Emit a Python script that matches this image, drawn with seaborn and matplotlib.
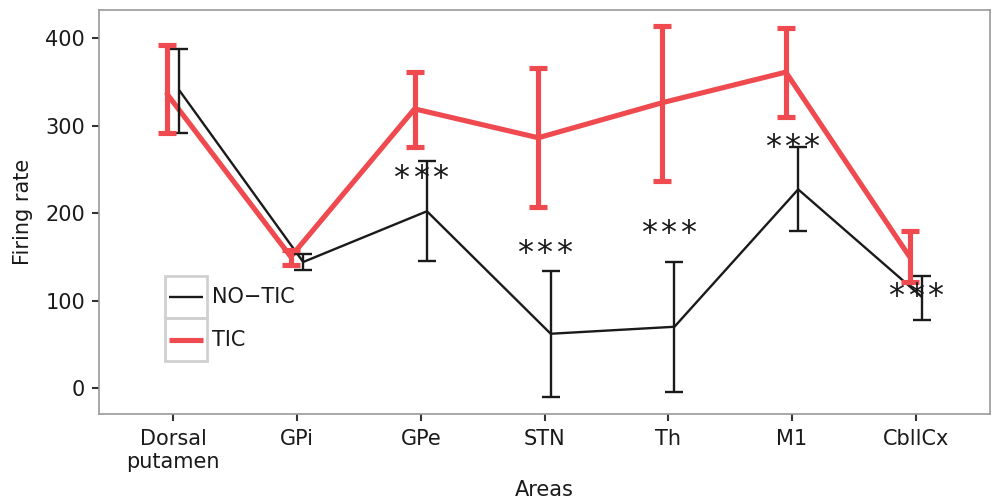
import matplotlib
matplotlib.use("Agg")
import matplotlib.pyplot as plt
import seaborn as sns
import numpy as np
import pandas as pd
from matplotlib.patches import Rectangle

areas = ["Dorsal\nputamen", "GPi", "GPe", "STN", "Th", "M1", "CbllCx"]
notic_mean = [340, 144, 202, 62, 70, 227, 104]
notic_low = [291, 135, 145, -10, -5, 180, 78]
notic_high = [388, 153, 259, 134, 144, 275, 128]
tic_mean = [336, 150, 319, 286, 326, 361, 150]
tic_low = [291, 141, 275, 207, 237, 310, 121]
tic_high = [392, 158, 361, 366, 414, 411, 179]
star_y = [None, None, 244, 158, 181, 279, 109]
star_char = "*"

sns.set_theme(style="white")
plt.rcParams['font.family'] = ['DejaVu Sans']

BLACK = "#1a1a1a"
RED = "#EF4A4F"
dodge = 0.05
FS = 15

fig = plt.figure(figsize=(9.92, 5.01), dpi=100)
ax = fig.add_axes([99/992, 1 - 414/501, (990-99)/992, (414-10)/501])

x = np.arange(len(areas))
df = pd.DataFrame({
    "x": np.concatenate([x + dodge, x - dodge]),
    "rate": notic_mean + tic_mean,
    "group": ["NO\u2212TIC"] * len(areas) + ["TIC"] * len(areas),
})

sns.lineplot(data=df, x="x", y="rate", hue="group", size="group",
             palette={"NO\u2212TIC": BLACK, "TIC": RED},
             sizes={"NO\u2212TIC": 1.7, "TIC": 3.7},
             ax=ax, legend=False, estimator=None, sort=False)

nm = np.array(notic_mean); tm = np.array(tic_mean)
ax.errorbar(x + dodge, nm, yerr=[nm - np.array(notic_low), np.array(notic_high) - nm],
            fmt="none", ecolor=BLACK, elinewidth=1.7, capsize=6.5, capthick=1.7, zorder=3)
ax.errorbar(x - dodge, tm, yerr=[tm - np.array(tic_low), np.array(tic_high) - tm],
            fmt="none", ecolor=RED, elinewidth=3.7, capsize=6.5, capthick=3.7, zorder=4)

# "***" annotations with wide letter spacing
for i, sy in enumerate(star_y):
    if sy is not None:
        for k in (-1, 0, 1):
            ax.annotate(star_char, (x[i], sy), xytext=(k * 13.9, 0),
                        textcoords="offset points", ha="center",
                        va="center_baseline", fontsize=23, color=BLACK, zorder=6)

ax.set_xlim(-0.6, 6.6)
ax.set_ylim(-29.7, 432)
ax.set_xticks(x)
ax.set_xticklabels(areas, fontsize=FS, color="#1a1a1a", linespacing=1.15)
ax.set_yticks([0, 100, 200, 300, 400])
ax.tick_params(axis="y", labelsize=FS, labelcolor="#1a1a1a", pad=5)
ax.tick_params(axis="x", pad=6)
ax.tick_params(axis="both", direction="out", length=5, width=1.5, color="#333333",
               bottom=True, left=True)
ax.set_xlabel("Areas", fontsize=FS, color="#1a1a1a", labelpad=6)
ax.set_ylabel("Firing rate", fontsize=FS, color="#1a1a1a", labelpad=9)
for s in ax.spines.values():
    s.set_color("#999999")
    s.set_linewidth(1.2)

# legend keys
def to_ax(px, py):
    return ((px - 99) / (990 - 99), (414 - py) / (414 - 10))

for (top, bot), col, lw, lab in [((276, 318), BLACK, 1.7, "NO\u2212TIC"),
                                  ((318, 361), RED, 3.7, "TIC")]:
    x0, y0 = to_ax(165, bot)
    x1, y1 = to_ax(207, top)
    ax.add_patch(Rectangle((x0, y0), x1 - x0, y1 - y0, transform=ax.transAxes,
                           fill=False, edgecolor="#d0d0d0", linewidth=2, zorder=5))
    lx0, ly = to_ax(169, (top + bot) / 2)
    lx1, _ = to_ax(203, 0)
    ax.plot([lx0, lx1], [ly, ly], transform=ax.transAxes, color=col, lw=lw,
            solid_capstyle="butt", zorder=6)
    tx, _ = to_ax(212, 0)
    ax.text(tx, ly, lab, transform=ax.transAxes, fontsize=FS, color=BLACK,
            va="center", ha="left", zorder=6)

fig.savefig("out.png", dpi=100)
